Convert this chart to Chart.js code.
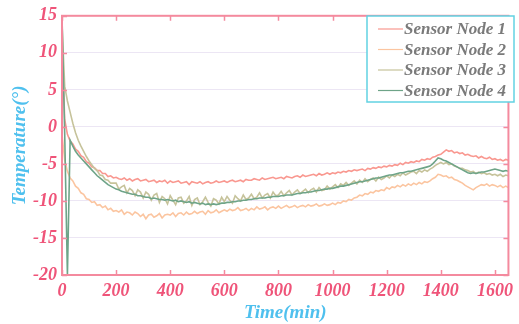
<!DOCTYPE html>
<html>
<head>
<meta charset="utf-8">
<script src="https://cdn.jsdelivr.net/npm/chart.js@4.4.1/dist/chart.umd.min.js"></script>
<style>
  html, body { margin: 0; padding: 0; background: #fff; }
  #wrap { width: 519px; height: 324px; }
</style>
</head>
<body>
<div id="wrap"><canvas id="tempChart"></canvas></div>
<script>
// sample times (min), one reading every 10 min
const minutes = [
    0, 10, 20, 30, 40, 50, 60, 70, 80, 90,
    100, 110, 120, 130, 140, 150, 160, 170, 180, 190,
    200, 210, 220, 230, 240, 250, 260, 270, 280, 290,
    300, 310, 320, 330, 340, 350, 360, 370, 380, 390,
    400, 410, 420, 430, 440, 450, 460, 470, 480, 490,
    500, 510, 520, 530, 540, 550, 560, 570, 580, 590,
    600, 610, 620, 630, 640, 650, 660, 670, 680, 690,
    700, 710, 720, 730, 740, 750, 760, 770, 780, 790,
    800, 810, 820, 830, 840, 850, 860, 870, 880, 890,
    900, 910, 920, 930, 940, 950, 960, 970, 980, 990,
    1000, 1010, 1020, 1030, 1040, 1050, 1060, 1070, 1080, 1090,
    1100, 1110, 1120, 1130, 1140, 1150, 1160, 1170, 1180, 1190,
    1200, 1210, 1220, 1230, 1240, 1250, 1260, 1270, 1280, 1290,
    1300, 1310, 1320, 1330, 1340, 1350, 1360, 1370, 1380, 1390,
    1400, 1410, 1420, 1430, 1440, 1450, 1460, 1470, 1480, 1490,
    1500, 1510, 1520, 1530, 1540, 1550, 1560, 1570, 1580, 1590,
    1600, 1610, 1620, 1630, 1640, 1650
];

const node1 = [
    11.5, 1.0, -1.0, -1.9, -2.3, -3.0, -3.3, -3.9, -4.1, -4.7,
    -4.9, -5.4, -5.5, -5.9, -5.9, -6.3, -6.3, -6.7, -6.6, -6.9,
    -6.8, -7.0, -7.1, -6.9, -7.2, -7.0, -7.3, -7.1, -7.0, -7.3,
    -7.2, -7.1, -7.4, -7.3, -7.2, -7.5, -7.3, -7.4, -7.2, -7.6,
    -7.3, -7.5, -7.4, -7.3, -7.6, -7.5, -7.4, -7.8, -7.4, -7.5,
    -7.6, -7.4, -7.7, -7.5, -7.4, -7.6, -7.5, -7.3, -7.5, -7.4,
    -7.3, -7.5, -7.3, -7.2, -7.4, -7.3, -7.2, -7.4, -7.1, -7.2,
    -7.2, -7.0, -7.1, -7.2, -6.9, -7.1, -7.0, -6.9, -6.8, -7.0,
    -6.9, -6.8, -7.0, -6.7, -6.8, -6.9, -6.7, -6.6, -6.8, -6.5,
    -6.7, -6.6, -6.5, -6.4, -6.6, -6.3, -6.5, -6.4, -6.2, -6.4,
    -6.2, -6.3, -6.1, -6.2, -6.0, -6.1, -5.9, -6.0, -5.8, -5.9,
    -5.8, -5.7, -5.9, -5.6, -5.7, -5.5, -5.6, -5.4, -5.5, -5.3,
    -5.4, -5.2, -5.3, -5.1, -5.2, -4.9, -5.1, -4.8, -4.9, -4.7,
    -4.8, -4.6, -4.7, -4.4, -4.5, -4.3, -4.4, -4.1, -4.0, -3.8,
    -3.7, -3.4, -3.1, -3.3, -3.2, -3.5, -3.4, -3.6, -3.5, -3.8,
    -3.7, -3.9, -4.0, -3.9, -4.2, -4.0, -4.2, -4.3, -4.1, -4.4,
    -4.3, -4.5, -4.4, -4.6, -4.4, -4.5
];

const node2 = [
    -1.0, -4.5, -6.0, -6.9, -7.3, -8.0, -8.3, -8.9, -9.1, -9.7,
    -9.8, -10.2, -10.1, -10.6, -10.5, -10.9, -10.7, -11.2, -11.0, -11.4,
    -11.3, -11.5, -11.2, -11.8, -11.5, -11.6, -11.9, -11.5, -11.7, -12.1,
    -11.8, -12.4, -11.9, -11.8, -12.2, -12.0, -11.7, -12.3, -11.9, -11.8,
    -11.9, -11.6, -12.1, -11.7, -11.6, -11.9, -11.5, -11.8, -11.7, -11.4,
    -11.7, -11.5, -11.4, -11.8, -11.3, -11.6, -11.5, -11.2, -11.6, -11.4,
    -11.2, -11.4, -11.1, -11.3, -11.2, -10.9, -11.3, -11.2, -11.0, -11.3,
    -11.0, -11.2, -10.8, -11.1, -11.0, -10.8, -11.2, -10.9, -10.8, -11.0,
    -10.7, -11.0, -10.8, -10.6, -10.9, -10.8, -10.6, -10.9, -10.7, -10.6,
    -10.8, -10.5, -10.7, -10.6, -10.4, -10.7, -10.6, -10.4, -10.6, -10.5,
    -10.3, -10.5, -10.2, -10.3, -10.0, -10.1, -9.8, -9.9, -9.6, -9.5,
    -9.2, -9.3, -9.0, -9.1, -8.8, -8.9, -8.6, -8.7, -8.5, -8.6,
    -8.2, -8.4, -8.1, -8.2, -7.9, -8.1, -7.8, -8.0, -7.7, -7.9,
    -7.6, -7.8, -7.5, -7.7, -7.4, -7.5, -7.3, -7.0, -6.8, -6.4,
    -6.5, -6.7, -6.6, -6.9, -6.8, -7.1, -7.2, -7.4, -7.6, -7.9,
    -8.1, -8.3, -8.5, -8.2, -8.0, -7.8, -7.9, -7.7, -8.0, -7.8,
    -7.9, -8.1, -7.9, -8.2, -8.0, -8.2
];

const node3 = [
    14.0, 5.5, 3.5, 2.0, 0.5, -0.8, -1.8, -2.6, -3.3, -4.0,
    -4.6, -5.1, -5.6, -5.9, -6.5, -6.6, -7.1, -7.2, -7.6, -7.6,
    -7.6, -8.4, -8.1, -7.9, -8.9, -8.3, -8.6, -9.3, -8.5, -8.8,
    -9.6, -8.8, -9.1, -9.9, -9.2, -9.0, -10.2, -9.4, -9.7, -10.4,
    -9.3, -9.9, -10.5, -9.6, -9.5, -10.3, -10.0, -9.4, -10.6, -9.8,
    -9.6, -10.5, -10.1, -9.5, -10.2, -10.7, -9.7, -9.9, -10.4, -9.5,
    -10.1, -9.4, -9.9, -10.3, -9.3, -9.7, -10.0, -9.2, -9.8, -9.6,
    -9.1, -9.7, -9.5, -8.9, -9.6, -9.2, -9.0, -9.6, -8.8, -9.3,
    -9.2, -8.7, -9.3, -8.9, -8.6, -9.2, -8.8, -8.5, -9.0, -8.7,
    -8.4, -8.9, -8.5, -8.3, -8.8, -8.2, -8.6, -8.5, -8.0, -8.4,
    -8.1, -7.8, -8.2, -7.7, -7.9, -7.5, -7.9, -7.6, -7.3, -7.7,
    -7.2, -7.5, -7.0, -7.4, -7.1, -6.9, -7.3, -6.8, -7.1, -6.9,
    -6.6, -6.9, -6.5, -6.7, -6.4, -6.6, -6.2, -6.5, -6.3, -6.1,
    -6.0, -6.3, -5.9, -6.1, -5.8, -6.0, -5.7, -5.5, -5.2, -5.0,
    -4.8, -5.0, -4.8, -5.1, -5.0, -5.3, -5.4, -5.6, -5.6, -5.8,
    -5.9, -6.1, -6.0, -6.3, -6.1, -6.3, -6.2, -6.4, -6.3, -6.5,
    -6.4, -6.6, -6.4, -6.7, -6.5, -6.6
];

const node4 = [
    15.0, -1.0, -20.0, -1.8, -2.6, -3.3, -3.8, -4.2, -4.6, -5.0,
    -5.4, -5.8, -6.2, -6.6, -6.9, -7.2, -7.5, -7.8, -8.0, -8.2,
    -8.4, -8.5, -8.7, -8.8, -8.9, -9.0, -9.1, -9.1, -9.3, -9.3,
    -9.4, -9.5, -9.5, -9.7, -9.6, -9.7, -9.8, -9.8, -9.9, -9.8,
    -9.9, -10.0, -9.9, -10.1, -10.0, -10.1, -10.2, -10.1, -10.3, -10.2,
    -10.3, -10.4, -10.3, -10.5, -10.4, -10.5, -10.4, -10.5, -10.4, -10.3,
    -10.3, -10.2, -10.2, -10.1, -10.1, -10.0, -10.0, -9.9, -9.9, -9.8,
    -9.8, -9.7, -9.7, -9.6, -9.6, -9.6, -9.5, -9.5, -9.4, -9.4,
    -9.4, -9.3, -9.3, -9.2, -9.2, -9.2, -9.1, -9.0, -9.0, -8.9,
    -8.9, -8.8, -8.8, -8.7, -8.6, -8.6, -8.5, -8.4, -8.4, -8.3,
    -8.3, -8.2, -8.1, -8.0, -8.0, -7.9, -7.8, -7.7, -7.6, -7.5,
    -7.4, -7.4, -7.3, -7.2, -7.1, -7.0, -6.9, -6.9, -6.8, -6.7,
    -6.6, -6.5, -6.5, -6.4, -6.3, -6.2, -6.2, -6.1, -6.0, -6.0,
    -5.9, -5.8, -5.7, -5.6, -5.5, -5.4, -5.3, -5.0, -4.6, -4.2,
    -4.3, -4.5, -4.6, -4.8, -5.0, -5.2, -5.4, -5.6, -5.8, -6.0,
    -6.2, -6.3, -6.2, -6.3, -6.2, -6.1, -6.1, -6.0, -5.9, -5.8,
    -5.7, -5.8, -5.9, -6.0, -5.9, -6.0
];

const seriesNames = ["Sensor Node 1", "Sensor Node 2", "Sensor Node 3", "Sensor Node 4"];
const yTicks = [-20, -15, -10, -5, 0, 5, 10, 15];
const xTicks = [0, 200, 400, 600, 800, 1000, 1200, 1400, 1600];

const colors = {
    node1: "#f99890",
    node2: "#fbc5a0",
    node3: "#c6c39b",
    node4: "#6ea488",
    frame: "#f48a9e",
    tick: "#ef5479",
    title: "#4fc0ee",
    grid: "#ece6f4",
    legendBox: "#62d2e2",
    legendText: "#7a7a7a"
};

const serifBold = { family: "'Liberation Serif', 'Times New Roman', serif", size: 18, weight: "bold", style: "italic" };

function toPoints(vals) {
    return vals.map((v, i) => ({ x: minutes[i], y: v }));
}

// frame, inward tick marks and the boxed legend
const framePlugin = {
    id: "frame",
    afterDraw(chart) {
        const ctx = chart.ctx;
        const a = chart.chartArea;
        const xs = chart.scales.x, ys = chart.scales.y;
        ctx.save();
        ctx.strokeStyle = colors.frame;
        ctx.lineWidth = 1.5;
        ctx.beginPath();
        xTicks.forEach(t => {
            const px = Math.round(xs.getPixelForValue(t)) + 0.5;
            ctx.moveTo(px, a.bottom); ctx.lineTo(px, a.bottom - 5);
            ctx.moveTo(px, a.top); ctx.lineTo(px, a.top + 5);
        });
        yTicks.forEach(t => {
            const py = Math.round(ys.getPixelForValue(t)) + 0.5;
            ctx.moveTo(a.left, py); ctx.lineTo(a.left + 5, py);
            ctx.moveTo(a.right, py); ctx.lineTo(a.right - 5, py);
        });
        ctx.stroke();
        ctx.lineWidth = 2;
        ctx.strokeRect(a.left, a.top, a.right - a.left, a.bottom - a.top);

        // legend
        const bx = 367, by = 16, bw = 147, bh = 86;
        ctx.fillStyle = "#fff";
        ctx.fillRect(bx, by, bw, bh);
        ctx.strokeStyle = colors.legendBox;
        ctx.lineWidth = 1.5;
        ctx.strokeRect(bx, by, bw, bh);
        ctx.font = "italic bold 17px 'Liberation Serif', 'Times New Roman', serif";
        ctx.textBaseline = "middle";
        chart.data.datasets.forEach((ds, i) => {
            const cy = by + 13 + i * 20.5;
            ctx.strokeStyle = ds.borderColor;
            ctx.lineWidth = 1.2;
            ctx.beginPath();
            ctx.moveTo(bx + 11, cy);
            ctx.lineTo(bx + 36, cy);
            ctx.stroke();
            ctx.fillStyle = colors.legendText;
            ctx.fillText(ds.label, bx + 37, cy + 1);
        });
        ctx.restore();
    }
};

const ctx = document.getElementById("tempChart");
new Chart(ctx, {
    type: "line",
    data: {
        datasets: [
            { label: seriesNames[0], data: toPoints(node1), borderColor: colors.node1, order: 4 },
            { label: seriesNames[1], data: toPoints(node2), borderColor: colors.node2, order: 3 },
            { label: seriesNames[2], data: toPoints(node3), borderColor: colors.node3, order: 2 },
            { label: seriesNames[3], data: toPoints(node4), borderColor: colors.node4, order: 1 }
        ]
    },
    options: {
        responsive: true,
        maintainAspectRatio: false,
        animation: false,
        parsing: false,
        elements: {
            line: { borderWidth: 1.6, tension: 0 },
            point: { radius: 0 }
        },
        layout: { autoPadding: false, padding: { top: 15, right: 3, left: 0, bottom: 0 } },
        plugins: { legend: { display: false }, tooltip: { enabled: false } },
        scales: {
            x: {
                type: "linear",
                min: 0,
                max: 1650,
                afterFit: s => { s.height = 49; },
                afterBuildTicks: s => { s.ticks = xTicks.map(v => ({ value: v })); },
                grid: { display: false, drawTicks: false },
                border: { display: false },
                ticks: { color: colors.tick, font: serifBold, padding: 6, maxRotation: 0, autoSkip: false, callback: v => String(v) },
                title: { display: true, text: "Time(min)", color: colors.title, font: { ...serifBold, size: 19 }, padding: { top: 0, bottom: 0 } }
            },
            y: {
                min: -20,
                max: 15,
                afterFit: s => { s.width = 62; },
                afterBuildTicks: s => { s.ticks = yTicks.map(v => ({ value: v })); },
                grid: { color: colors.grid, lineWidth: 1, drawTicks: false },
                border: { display: false },
                ticks: { color: colors.tick, font: serifBold, padding: 5, callback: v => String(v) },
                title: { display: true, text: "Temperature(°)", color: colors.title, font: { ...serifBold, size: 19 }, padding: { top: 9, bottom: 0 } }
            }
        }
    },
    plugins: [framePlugin]
});
</script>
</body>
</html>
